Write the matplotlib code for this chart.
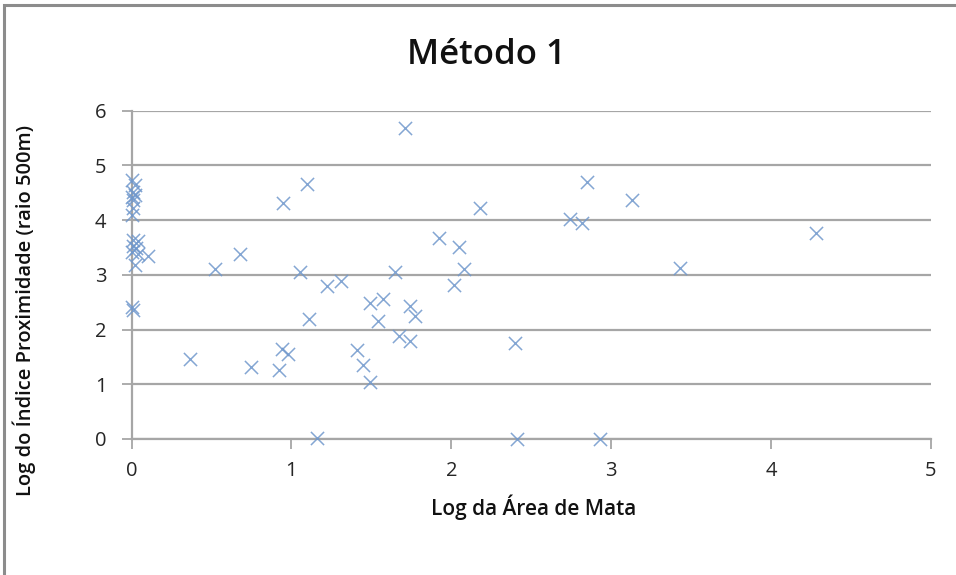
import matplotlib
matplotlib.use("Agg")
import matplotlib.pyplot as plt
from matplotlib.patches import Rectangle

# Data
x_area = [0.00, 0.02, 0.01, 0.02, 0.00, 0.01, 0.01, 0.00,
          0.01, 0.04, 0.01, 0.03, 0.00, 0.04, 0.105, 0.02,
          0.00, 0.01,
          0.366, 0.52, 0.68, 0.75, 0.92, 0.94, 0.95, 0.98, 1.053, 1.095, 1.11, 1.16,
          1.22, 1.31, 1.41, 1.45, 1.49, 1.49, 1.54, 1.57, 1.65, 1.67, 1.71, 1.74,
          1.74, 1.77, 1.92, 2.02, 2.05, 2.08, 2.18, 2.40, 2.41, 2.74, 2.82, 2.85,
          2.93, 3.13, 3.43, 4.28]
y_prox = [4.73, 4.64, 4.52, 4.46, 4.43, 4.37, 4.22, 4.10,
          3.64, 3.61, 3.52, 3.49, 3.42, 3.38, 3.35, 3.18,
          2.42, 2.36,
          1.46, 3.11, 3.38, 1.31, 1.26, 1.65, 4.32, 1.55, 3.06, 4.66, 2.19, 0.01,
          2.79, 2.89, 1.63, 1.35, 2.49, 1.04, 2.16, 2.55, 3.06, 1.88, 5.68, 2.43,
          1.79, 2.25, 3.68, 2.82, 3.50, 3.11, 4.22, 1.75, 0.00, 4.02, 3.94, 4.70,
          0.00, 4.37, 3.12, 3.76]

x_ticks = [0, 1, 2, 3, 4, 5]
y_ticks = [0, 1, 2, 3, 4, 5, 6]

title = "Método 1"
xlabel = "Log da Área de Mata"
ylabel = "Log do Índice Proximidade (raio 500m)"

plt.rcParams['font.family'] = ['Open Sans', 'DejaVu Sans']

fig = plt.figure(figsize=(9.56, 5.75), dpi=100)
ax = fig.add_axes([131.5/956, 1-439/575, (931-131.5)/956, (439-110.7)/575])

grid_c = "#A6A6A6"
ax.set_xlim(0, 5)
ax.set_ylim(0, 6)
ax.set_xticks(x_ticks)
ax.set_yticks(y_ticks)
ax.yaxis.grid(True, color=grid_c, linewidth=1.6)
ax.set_axisbelow(True)
for s in ("top", "right"):
    ax.spines[s].set_visible(False)
for s in ("left", "bottom"):
    ax.spines[s].set_color(grid_c)
    ax.spines[s].set_linewidth(1.6)
ax.tick_params(axis="both", direction="out", length=7, width=1.3, color=grid_c,
               labelsize=14.5, labelcolor="#262626")
ax.tick_params(axis="x", pad=9)
ax.tick_params(axis="y", pad=11)

ax.scatter(x_area, y_prox, marker="x", s=90, color="#6F97CC", linewidths=1.1,
           alpha=0.85, clip_on=False, zorder=3)

fig.text(486/956, 1-55/575, title, ha="center", va="center", fontsize=25,
         fontweight="semibold", color="#111111")
fig.text(534/956, 1-507/575, xlabel, ha="center", va="center", fontsize=15,
         fontweight="semibold", color="#111111")
fig.text(24/956, 1-311/575, ylabel, ha="center", va="center", fontsize=14.5,
         fontweight="semibold", color="#111111", rotation=90)

# chart-area border (top and left visible in crop)
fig.patches.append(Rectangle((4/956, -0.1), 1.2, 1-5/575+0.1, transform=fig.transFigure,
                             fill=False, edgecolor="#8C8C8C", linewidth=2.2))

fig.savefig("out.png", dpi=100, facecolor="white")
